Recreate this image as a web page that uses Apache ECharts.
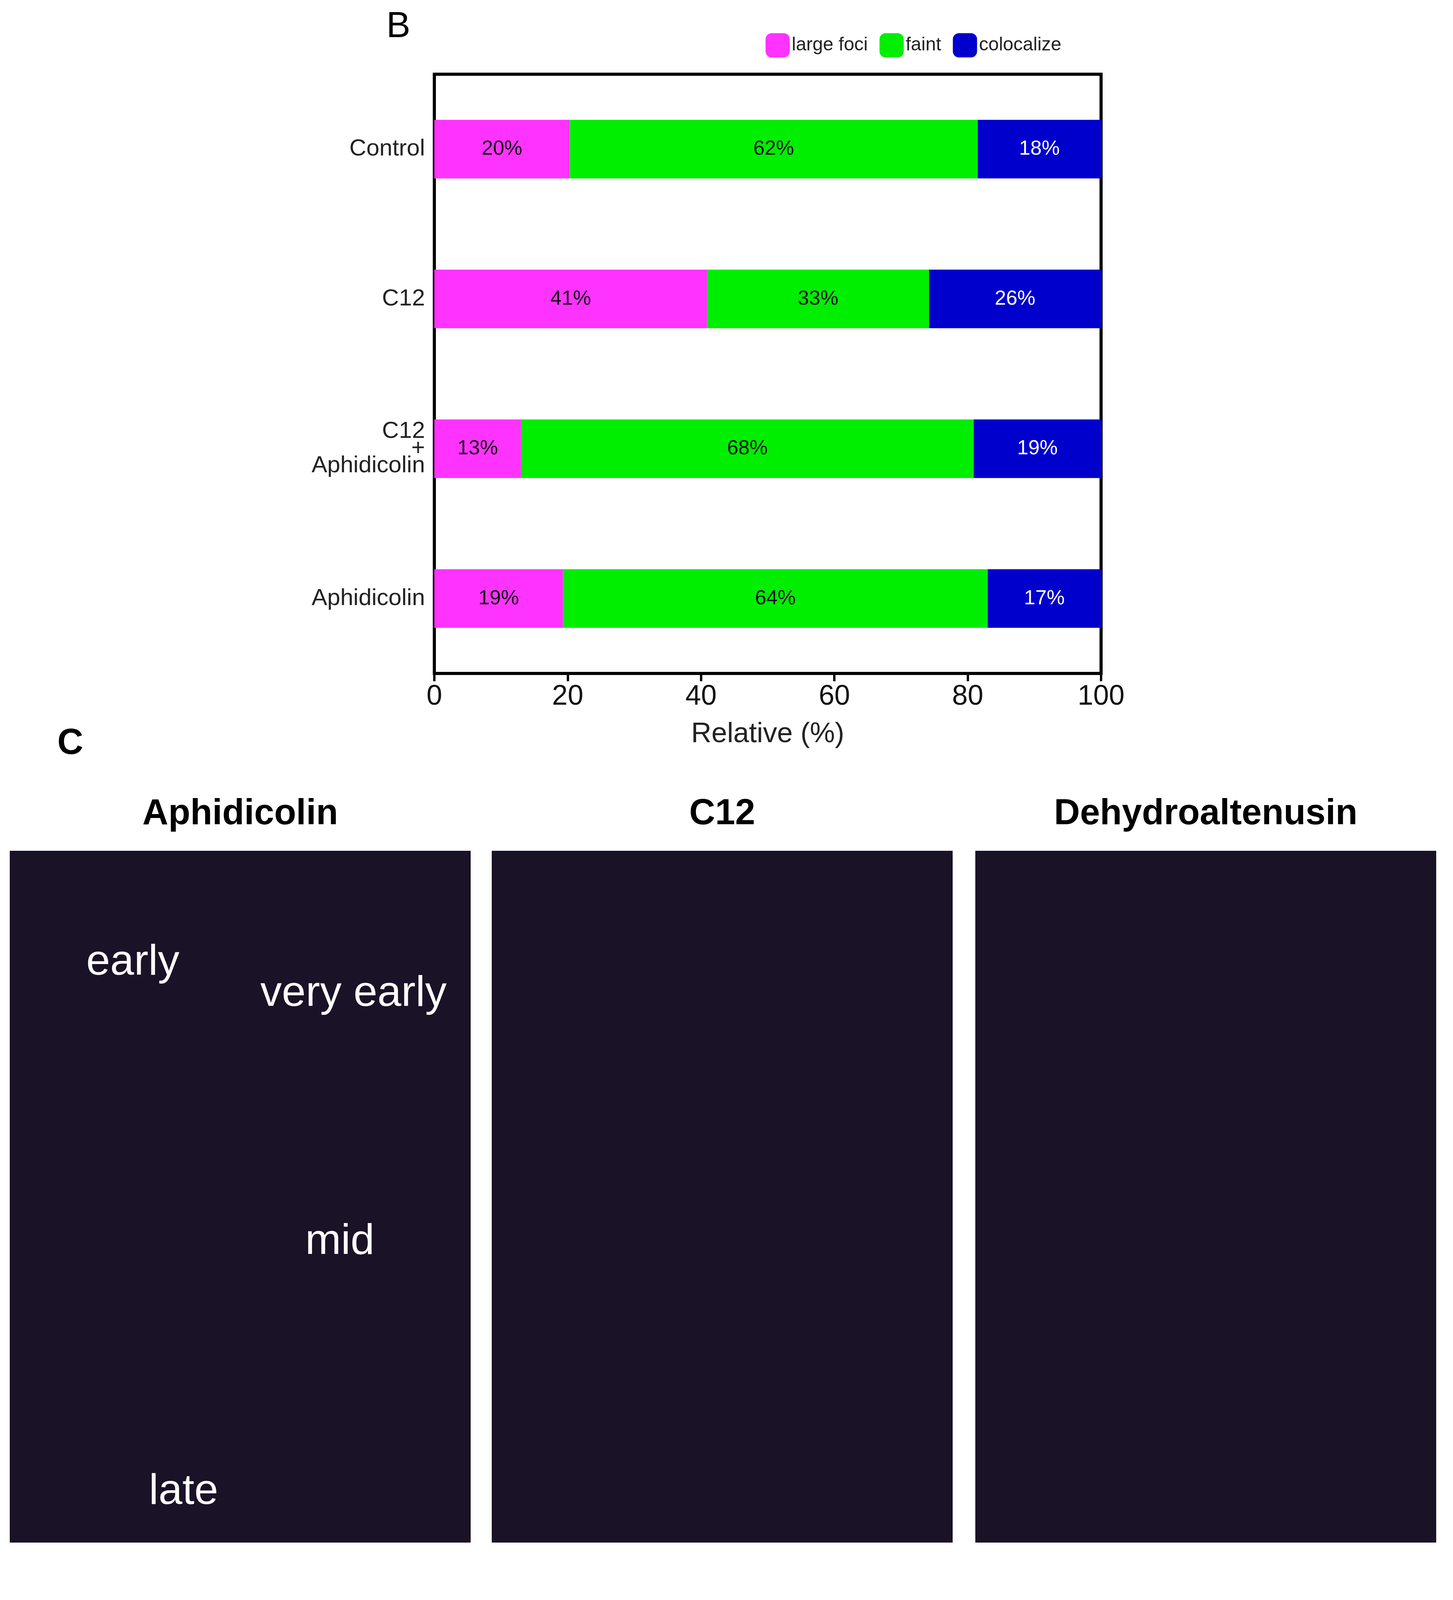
<!DOCTYPE html>
<html>
<head>
<meta charset="utf-8">
<style>
    html, body { margin: 0; padding: 0; background: #fff; }
    #top { width: 3720px; height: 4050px; }
    #bottom { width: 3720px; height: 1565px; }
</style>
<script src="https://cdn.jsdelivr.net/npm/echarts@6/dist/echarts.min.js"></script>
</head>
<body>
<div id="top"></div>
<div id="bottom"></div>
<script>
    // 面板 B 数据
    var catsB = ['Control', 'C12', 'C12\n+\nAphidicolin', 'Aphidicolin'];
    var largeFoci = [20.3, 40.9, 13, 19.3];
    var faint = [61.2, 33.3, 67.9, 63.7];
    var colocalize = [18.5, 25.8, 19.1, 17];
    var largeFociText = ['20%', '41%', '13%', '19%'];
    var faintText = ['62%', '33%', '68%', '64%'];
    var colocalizeText = ['18%', '26%', '19%', '17%'];

    // 面板 D 数据
    var catsD = ['Dehydroaltenusin', 'C12', 'Aphidicolin'];
    var veryEarly = [11.3, 17.2, 16];
    var earlyS = [59, 50.2, 57.1];
    var midS = [26.2, 26, 20];
    var lateS = [3.5, 6.6, 6.9];
    var veryEarlyText = ['11%', '17%', '17%'];
    var earlySText = ['59%', '50%', '63%'];
    var midSText = ['26%', '26%', '22%'];
    var lateSText = ['4%', '7%', '8%'];

    var font = 'Liberation Sans, Arial, sans-serif';

    function bar(name, data, texts, color, txtColor, big, w) {
        return {
            name: name, type: 'bar', stack: 'total', data: data, barWidth: w,
            itemStyle: { color: color },
            label: {
                show: true, position: 'inside', fontFamily: font,
                fontSize: big ? 64 : 52, color: txtColor,
                formatter: function (p) { return texts[p.dataIndex]; }
            }
        };
    }

    function xAxisOf(size, nameGap, name) {
        return {
            type: 'value', min: 0, max: 100, interval: 20,
            name: name, nameLocation: 'middle', nameGap: nameGap,
            nameTextStyle: { fontSize: size, color: '#222', fontFamily: font },
            axisLine: { show: true, lineStyle: { color: '#000', width: 8 } },
            axisTick: { show: true, length: 20, lineStyle: { color: '#000', width: 6 } },
            axisLabel: { fontSize: size, color: '#111', fontFamily: font, margin: 24 },
            splitLine: { show: false }
        };
    }

    function txt(x, y, s, size, color, bold) {
        return { type: 'text', x: x, y: y,
            style: { text: s, fontSize: size, fill: color, fontFamily: font, fontWeight: bold ? 'bold' : 'normal',
                align: 'center', verticalAlign: 'middle' } };
    }

    // 显微镜图像区域：只用深色面板和文字代替
    var panels = [[25, 'Aphidicolin'], [1259, 'C12'], [2497, 'Dehydroaltenusin']];
    var graphics = [];
    panels.forEach(function (p) {
        graphics.push({ type: 'rect', shape: { x: p[0], y: 2178, width: 1180, height: 1771 },
            style: { fill: '#1a1226' } });
        graphics.push(txt(p[0] + 590, 2085, p[1], 92, '#000', true));
    });
    graphics.push(txt(340, 2465, 'early', 110, '#fff'));
    graphics.push(txt(905, 2545, 'very early', 110, '#fff'));
    graphics.push(txt(870, 3180, 'mid', 110, '#fff'));
    graphics.push(txt(470, 3820, 'late', 110, '#fff'));
    graphics.push(txt(1020, 70, 'B', 92, '#000'));
    graphics.push(txt(180, 1905, 'C', 92, '#000', true));

    var chartTop = echarts.init(document.getElementById('top'));
    chartTop.setOption({
        animation: false,
        graphic: graphics,
        legend: { data: ['large foci', 'faint', 'colocalize'], left: 1955, top: 80, itemWidth: 62, itemHeight: 62,
            itemGap: 30, textStyle: { fontSize: 48, fontFamily: font, color: '#222' } },
        grid: { left: 1112, top: 190, width: 1707, height: 1534, show: true, borderColor: '#000', borderWidth: 8 },
        xAxis: xAxisOf(72, 120, 'Relative (%)'),
        yAxis: { type: 'category', data: catsB, inverse: true,
            axisLine: { show: false }, axisTick: { show: false },
            axisLabel: { fontSize: 60, color: '#222', fontFamily: font, margin: 24, lineHeight: 44 } },
        series: [
            bar('large foci', largeFoci, largeFociText, '#ff33ff', '#111', false, 150),
            bar('faint', faint, faintText, '#00ee00', '#111', false, 150),
            bar('colocalize', colocalize, colocalizeText, '#0000cc', '#fff', false, 150)
        ]
    });

    var chartBottom = echarts.init(document.getElementById('bottom'));
    chartBottom.setOption({
        animation: false,
        graphic: [txt(460, 135, 'D', 92, '#000')],
        legend: { data: ['very early S', 'early S', 'mid S', 'late S'], left: 1675, top: 155, itemWidth: 68, itemHeight: 68,
            itemGap: 60, textStyle: { fontSize: 64, fontFamily: font, color: '#222' } },
        grid: { left: 887, top: 257, width: 2375, height: 1023, show: true, borderColor: '#000', borderWidth: 8 },
        xAxis: xAxisOf(78, 135, 'Relative percent (%)'),
        yAxis: { type: 'category', data: catsD, inverse: true,
            axisLine: { show: false }, axisTick: { show: false },
            axisLabel: { fontSize: 80, color: '#222', fontFamily: font, margin: 60 } },
        series: [
            bar('very early S', veryEarly, veryEarlyText, '#00e5ee', '#222', true, 172),
            bar('early S', earlyS, earlySText, '#ee0000', '#331111', true, 172),
            bar('mid S', midS, midSText, '#ffff00', '#222', true, 172),
            bar('late S', lateS, lateSText, '#00dd00', '#222', true, 172)
        ]
    });
</script>
</body>
</html>
